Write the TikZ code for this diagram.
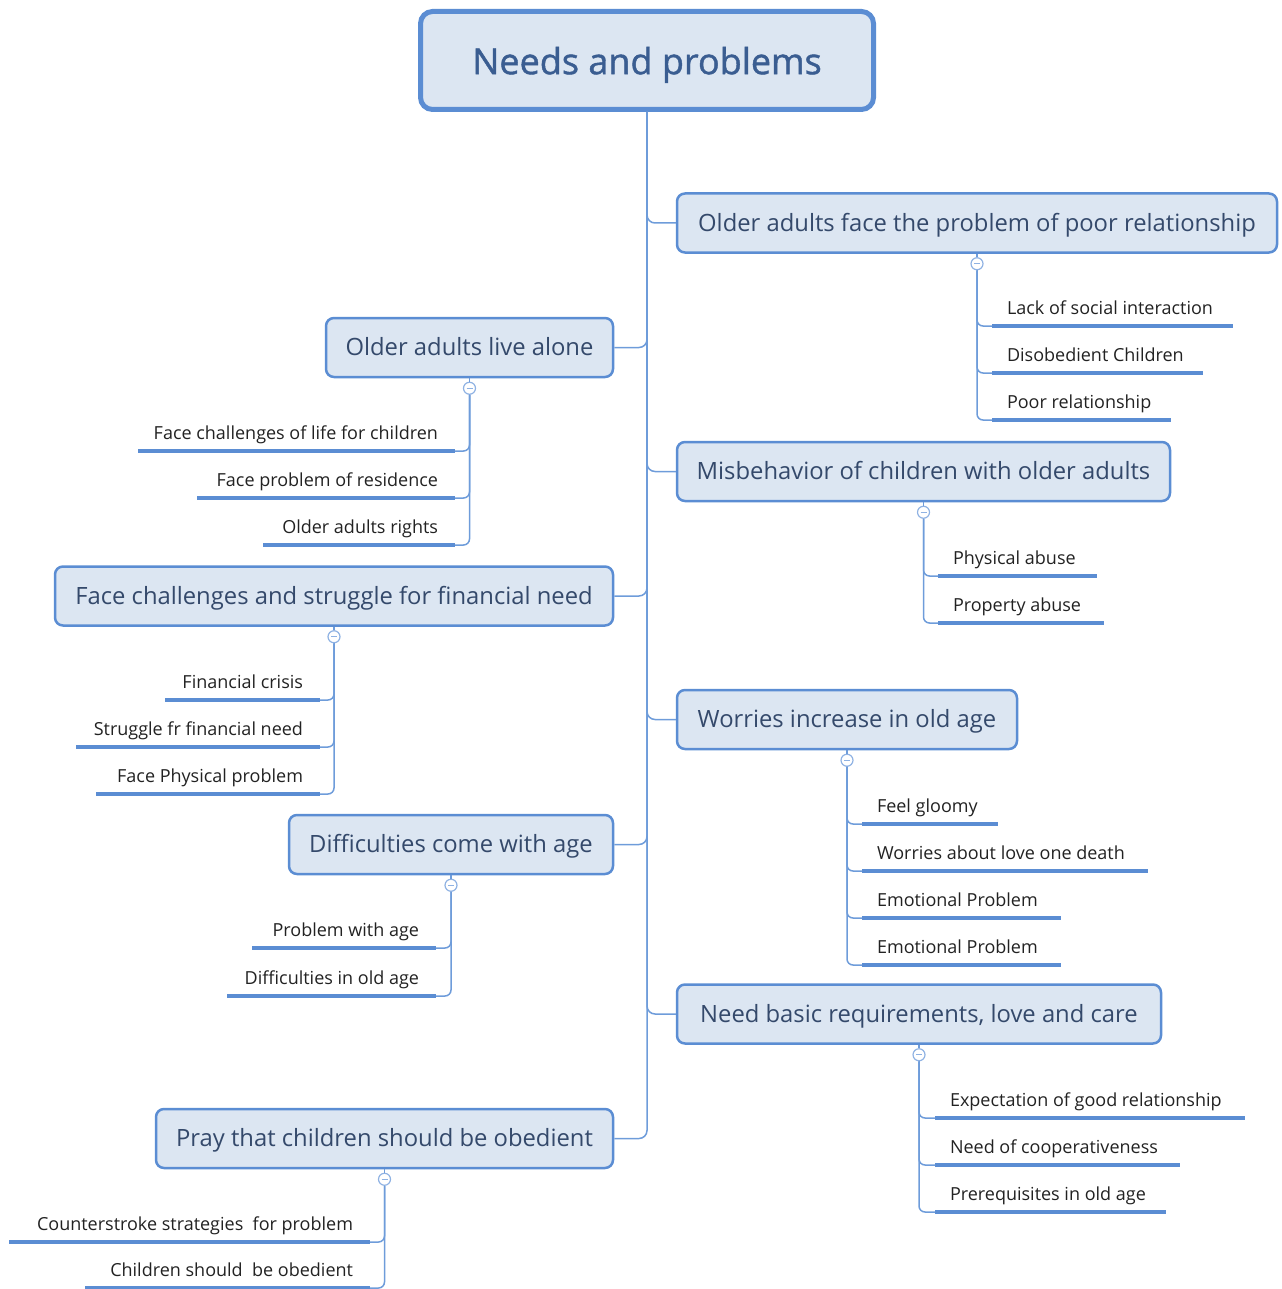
\documentclass[tikz,border=0pt]{standalone}
\usepackage{fontspec}
\setmainfont{Open Sans}
\newfontfamily\rootfont{Open Sans}[FakeBold=1.2]
\definecolor{boxline}{HTML}{5B8DD3}
\definecolor{boxfill}{HTML}{DCE6F2}
\definecolor{conn}{HTML}{6E9CDA}
\definecolor{togline}{HTML}{8FB2E3}
\definecolor{roottext}{HTML}{3A5D91}
\definecolor{branchtext}{HTML}{34496B}
\definecolor{leaftext}{HTML}{222222}
\newcommand\lbx[2]{\makebox[#1][l]{#2}}
\newcommand\rbx[2]{\makebox[#1][r]{#2}}
\begin{document}
\begin{tikzpicture}[x=1pt,y=-1pt,
 rootbox/.style={draw=boxline, line width=5pt, fill=boxfill, rounded corners=12pt, minimum width=453pt, minimum height=98pt, inner sep=0pt, text depth=0pt, font=\rootfont\fontsize{36}{40}\selectfont, text=roottext},
 branch/.style={draw=boxline, line width=2.5pt, fill=boxfill, rounded corners=8pt, minimum height=59pt, inner sep=0pt, text depth=2pt, font=\fontsize{23.8}{28}\selectfont, text=branchtext},
 conline/.style={draw=conn, line width=1.5pt, rounded corners=8pt},
 tog/.style={circle, draw=togline, fill=white, line width=1.2pt, minimum size=12pt, inner sep=0pt,
   path picture={\draw[togline, line width=1.2pt] ([xshift=-3pt]path picture bounding box.center) -- ([xshift=3pt]path picture bounding box.center);}},
 leafR/.style={anchor=south west, inner xsep=15pt, inner ysep=7.5pt, text height=14pt, text depth=4.5pt, font=\fontsize{18}{22}\selectfont, text=leaftext, outer sep=0pt},
 leafL/.style={anchor=south east, inner xsep=17pt, inner ysep=7.5pt, text height=14pt, text depth=4.5pt, font=\fontsize{18}{22}\selectfont, text=leaftext, outer sep=0pt},
 uline/.style={draw=boxline, line width=4pt},
 ]
\useasboundingbox (0,0) rectangle (1281,1289);

% root
\node[rootbox] (root) at (647,60.5) {Needs and problems};

% branches
\node[branch, minimum width=600pt] (b1) at (977,223) {Older adults face the problem of poor relationship};
\node[branch, minimum width=287pt] (b2) at (469.5,347.5) {Older adults live alone};
\node[branch, minimum width=493pt] (b3) at (923.5,471.5) {Misbehavior of children with older adults};
\node[branch, minimum width=558pt] (b4) at (334,596) {Face challenges and struggle for financial need};
\node[branch, minimum width=340pt] (b5) at (847,719.5) {Worries increase in old age};
\node[branch, minimum width=324pt] (b6) at (451,844.5) {Difficulties come with age};
\node[branch, minimum width=484pt] (b7) at (919,1014) {Need basic requirements, love and care};
\node[branch, minimum width=457pt] (b8) at (384.5,1138.5) {Pray that children should be obedient};

% toggles
\foreach \b in {1,...,8}{
  \node[tog] (t\b) at ([yshift=-10pt]b\b.south) {};
}

% leaves right
\node[leafR] (l11) at (992,326) {\lbx{211pt}{Lack of social interaction}};
\node[leafR] (l12) at (992,373) {\lbx{181pt}{Disobedient Children}};
\node[leafR] (l13) at (992,420) {\lbx{149pt}{Poor relationship}};
\node[leafR] (l31) at (938,576) {\lbx{129pt}{Physical abuse}};
\node[leafR] (l32) at (938,623) {\lbx{136pt}{Property abuse}};
\node[leafR] (l51) at (862,824) {\lbx{106pt}{Feel gloomy}};
\node[leafR] (l52) at (862,871) {\lbx{256pt}{Worries about love one death}};
\node[leafR] (l53) at (862,918) {\lbx{169pt}{Emotional Problem}};
\node[leafR] (l54) at (862,965) {\lbx{169pt}{Emotional Problem}};
\node[leafR] (l71) at (935,1118) {\lbx{280pt}{Expectation of good relationship}};
\node[leafR] (l72) at (935,1165) {\lbx{215pt}{Need of cooperativeness}};
\node[leafR] (l73) at (935,1212) {\lbx{201pt}{Prerequisites in old age}};

% leaves left
\node[leafL] (l21) at (455,451) {\rbx{283pt}{Face challenges of life for children}};
\node[leafL] (l22) at (455,498) {\rbx{224pt}{Face problem of residence}};
\node[leafL] (l23) at (455,545) {\rbx{158pt}{Older adults rights}};
\node[leafL] (l41) at (320,700) {\rbx{121pt}{Financial crisis}};
\node[leafL] (l42) at (320,747) {\rbx{210pt}{Struggle fr financial need}};
\node[leafL] (l43) at (320,794) {\rbx{190pt}{Face Physical problem}};
\node[leafL] (l61) at (436,948) {\rbx{150pt}{Problem with age}};
\node[leafL] (l62) at (436,996) {\rbx{175pt}{Difficulties in old age}};
\node[leafL] (l81) at (370,1242) {\rbx{327pt}{Counterstroke strategies\ \ for problem}};
\node[leafL] (l82) at (370,1288) {\rbx{251pt}{Children should\ \ be obedient}};

% trunk connectors
\foreach \b in {1,3,5,7}{
  \draw[conline] (root.south) |- (b\b.west);
}
\foreach \b in {2,4,6,8}{
  \draw[conline] (root.south) |- (b\b.east);
}

% branch to toggle
\foreach \b in {1,...,8}{
  \draw[conn, line width=1.5pt] (b\b.south) -- (t\b.north);
}

% underlines
\foreach \l in {l11,l12,l13,l31,l32,l51,l52,l53,l54,l71,l72,l73,l21,l22,l23,l41,l42,l43,l61,l62,l81,l82}{
  \draw[uline] (\l.south west) -- (\l.south east);
}

% toggle to leaves (right)
\foreach \l in {l11,l12,l13}{ \draw[conline, rounded corners=6pt] (t1.south) |- (\l.south west); }
\foreach \l in {l31,l32}{ \draw[conline, rounded corners=6pt] (t3.south) |- (\l.south west); }
\foreach \l in {l51,l52,l53,l54}{ \draw[conline, rounded corners=6pt] (t5.south) |- (\l.south west); }
\foreach \l in {l71,l72,l73}{ \draw[conline, rounded corners=6pt] (t7.south) |- (\l.south west); }
% toggle to leaves (left)
\foreach \l in {l21,l22,l23}{ \draw[conline, rounded corners=6pt] (t2.south) |- (\l.south east); }
\foreach \l in {l41,l42,l43}{ \draw[conline, rounded corners=6pt] (t4.south) |- (\l.south east); }
\foreach \l in {l61,l62}{ \draw[conline, rounded corners=6pt] (t6.south) |- (\l.south east); }
\foreach \l in {l81,l82}{ \draw[conline, rounded corners=6pt] (t8.south) |- (\l.south east); }
\end{tikzpicture}
\end{document}
